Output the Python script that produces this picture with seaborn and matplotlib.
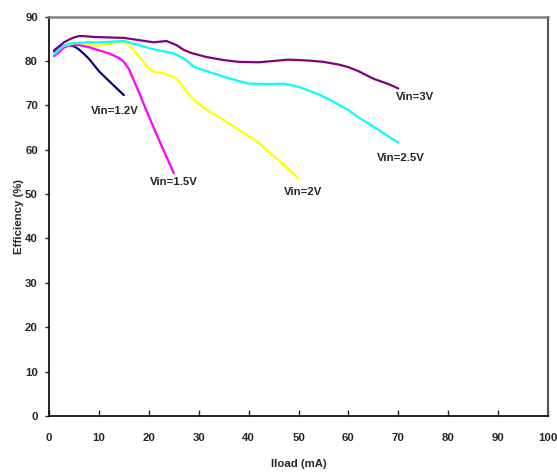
import numpy as np
import pandas as pd
import matplotlib
matplotlib.use("Agg")
import matplotlib.pyplot as plt
import seaborn as sns

# efficiency curves (Iload in mA, efficiency in %)
x_12 = [1, 2, 3, 4, 5, 6, 7, 8, 10, 12, 15]
y_12 = [82.2, 82.9, 83.4, 83.6, 83.3, 82.6, 81.6, 80.5, 77.7, 75.5, 72.3]

x_15 = [1, 2, 3, 4, 6, 8, 10, 12, 14, 15, 16, 17, 18, 20, 22, 25]
y_15 = [81.1, 82.0, 83.0, 83.5, 83.6, 83.1, 82.4, 81.7, 80.7, 79.8, 78.2, 75.6, 73.0, 67.5, 62.3, 54.7]

x_20 = [1, 2, 3, 5, 7, 9, 10, 12, 14, 15, 16, 17, 18, 19, 20, 21, 23, 25, 26, 27, 28, 30, 32, 35, 38, 40, 42, 44, 46, 48, 50]
y_20 = [81.5, 82.6, 83.4, 84.0, 84.0, 83.5, 83.4, 83.8, 84.3, 84.4, 83.6, 82.4, 81.0, 79.7, 78.3, 77.6, 77.2, 76.4, 75.5, 74.0, 72.5, 70.3, 68.7, 66.7, 64.5, 63.1, 61.6, 59.5, 57.7, 55.6, 53.5]

x_25 = [1, 2, 3, 4, 6, 8, 10, 12, 15, 18, 20, 22, 25, 27, 29, 31, 33, 36, 40, 44, 47, 50, 54, 57, 60, 62, 64, 66, 68, 70]
y_25 = [81.5, 82.6, 83.4, 83.9, 84.1, 84.2, 84.2, 84.3, 84.5, 83.6, 82.9, 82.4, 81.7, 80.6, 78.7, 77.9, 77.2, 76.1, 74.9, 74.8, 74.9, 74.2, 72.5, 70.8, 68.9, 67.3, 65.9, 64.5, 63.0, 61.6]

x_30 = [1, 2, 3, 4, 5, 6, 7, 9, 12, 15, 18, 21, 23.5, 25.5, 27, 28.5, 31.5, 35, 38, 42, 45, 48, 52, 55, 58, 60, 62, 65, 68, 70]
y_30 = [82.4, 83.3, 84.2, 84.8, 85.3, 85.6, 85.6, 85.4, 85.3, 85.2, 84.7, 84.2, 84.5, 83.6, 82.5, 81.8, 80.9, 80.2, 79.8, 79.7, 80.0, 80.3, 80.1, 79.8, 79.2, 78.6, 77.7, 76.0, 74.8, 73.8]

series = ["Vin=1.2V", "Vin=1.5V", "Vin=2V", "Vin=2.5V", "Vin=3V"]
colors = ["#000080", "#FF00FF", "#FFFF00", "#00FFFF", "#800080"]
label_x = [13.2, 25.1, 50.9, 70.5, 73.3]
label_y = [68.7, 52.7, 50.5, 58.1, 71.8]

df = pd.concat([
    pd.DataFrame({"Iload": xs, "Eff": ys, "Vin": name})
    for xs, ys, name in zip([x_12, x_15, x_20, x_25, x_30],
                            [y_12, y_15, y_20, y_25, y_30], series)
])

sns.set_style("white")
plt.rcParams["font.family"] = ["Liberation Sans", "DejaVu Sans"]
plt.rcParams["font.weight"] = "bold"

fig = plt.figure(figsize=(5.57, 4.74), dpi=100)
ax = fig.add_axes([0.088, 0.1224, 0.896, 0.8426])

sns.lineplot(data=df, x="Iload", y="Eff", hue="Vin", palette=colors,
             hue_order=series, linewidth=1.6, legend=False, ax=ax,
             estimator=None, sort=False)

for name, lx, ly in zip(series, label_x, label_y):
    ax.text(lx, ly, name, ha="center", va="center", fontsize=8.2,
            fontweight="bold")

ax.set_xlim(0, 100)
ax.set_ylim(0, 90)
ax.set_xticks(np.arange(0, 101, 10))
ax.set_yticks(np.arange(0, 91, 10))
ax.set_xlabel("Iload (mA)", fontsize=8.2, fontweight="bold", labelpad=12)
ax.set_ylabel("Efficiency (%)", fontsize=8.2, fontweight="bold", labelpad=1)
ax.tick_params(axis="x", direction="in", length=4, width=1, pad=12,
               labelsize=8.2, bottom=True)
ax.tick_params(axis="y", direction="out", length=3, width=1, pad=5,
               labelsize=8.2, left=True)
for lbl in ax.get_xticklabels() + ax.get_yticklabels():
    lbl.set_fontweight("bold")

ax.spines["left"].set_color("black")
ax.spines["bottom"].set_color("black")
ax.spines["left"].set_linewidth(1.2)
ax.spines["bottom"].set_linewidth(1.2)
ax.spines["top"].set_color("#808080")
ax.spines["top"].set_linewidth(1.8)
ax.spines["right"].set_color("#555555")
ax.spines["right"].set_linewidth(1.5)

fig.savefig("out.png", dpi=100)
